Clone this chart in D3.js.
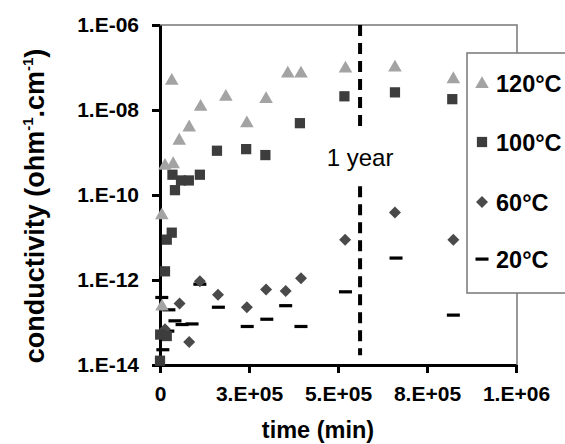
<!DOCTYPE html>
<html><head><meta charset="utf-8">
<script src="https://cdn.jsdelivr.net/npm/d3@7"></script>
<style>body{margin:0;background:#fff}svg{display:block}text{font-family:Arial,"Liberation Sans",sans-serif}</style>
</head><body><svg id="c" width="565" height="444"></svg>
<script>
// ---- data (time in min, conductivity in ohm^-1.cm^-1) ----
const series = ["120°C","100°C","60°C","20°C"];
const t120 = [5000,14000,37000,33000,54000,82000,114000,185000,244000,298000,359000,396000,521000,660000,824000,5600];
const c120 = [3.5e-11,5.1e-10,5.6e-10,5.1e-8,2.0e-9,4.1e-9,1.26e-8,2.15e-8,5.1e-9,1.9e-8,7.6e-8,7.6e-8,1.0e-7,1.05e-7,5.6e-8,2.5e-13];
const t100 = [0,500,19000,14000,19000,33000,35000,42000,59000,81000,112000,160000,242000,296000,393000,518000,660000,821000];
const c100 = [1.26e-14,5.2e-14,4.8e-14,1.6e-12,8.9e-12,1.3e-11,3.0e-10,1.3e-10,2.2e-10,2.2e-10,3.0e-10,1.1e-9,1.2e-9,8.7e-10,4.9e-9,2.1e-8,2.6e-8,1.8e-8];
const t60 = [14000,55000,82000,112000,163000,244000,298000,353000,396000,520000,660000,824000];
const c60 = [6.9e-14,2.8e-13,3.5e-14,9.3e-13,4.5e-13,2.3e-13,6.0e-13,5.5e-13,1.1e-12,8.9e-12,3.9e-11,8.9e-12];
const t20 = [5000,25000,42000,62000,90000,22000,8000,112000,164000,245000,300000,353000,396000,521000,663000,824000];
const c20 = [3.9e-13,2.0e-13,1.1e-13,9.0e-14,9.3e-14,6.3e-14,2.3e-14,8.0e-13,2.3e-13,8.1e-14,1.2e-13,2.5e-13,8.1e-14,5.3e-13,3.3e-12,1.5e-13];
const yearLine = 5.62e5;
const yearLabel = "1 year";
const yearGap = [3.4e-9, 1.6e-10];
const yearEnd = 1.7e-14;
const xTicks = [0,2.5e5,5e5,7.5e5,1e6];
const xTickLabels = ["0","3.E+05","5.E+05","8.E+05","1.E+06"];
const yTicks = [1e-6,1e-8,1e-10,1e-12,1e-14];
const yTickLabels = ["1.E-06","1.E-08","1.E-10","1.E-12","1.E-14"];

const svg = d3.select("#c");
const L=160, R=516, T=25, B=365;
const x = d3.scaleLinear().domain([0,1e6]).range([L,R]);
const y = d3.scaleLog().domain([1e-14,1e-6]).range([B,T]);

// plot border (top/right)
svg.append("path").attr("d",`M${L},${T}H${R+1}V${B}`).attr("fill","none").attr("stroke","#777").attr("stroke-width",1.5);

// year dashed line (with gap for label)
const yl = x(yearLine);
svg.append("line").attr("x1",yl).attr("x2",yl).attr("y1",y(1e-6)).attr("y2",y(yearGap[0]))
  .attr("stroke","#000").attr("stroke-width",4).attr("stroke-dasharray","11,7");
svg.append("line").attr("x1",yl).attr("x2",yl).attr("y1",y(yearGap[1])).attr("y2",y(yearEnd))
  .attr("stroke","#000").attr("stroke-width",4).attr("stroke-dasharray","11,7");
svg.append("text").attr("x",yl).attr("y",166).attr("text-anchor","middle").attr("font-size",24).text(yearLabel);

// axes
const xa = svg.append("g").attr("transform",`translate(0,${B})`)
  .call(d3.axisBottom(x).tickValues(xTicks).tickFormat((d,i)=>xTickLabels[i]).tickSize(8).tickSizeOuter(0));
const ya = svg.append("g").attr("transform",`translate(${L},0)`)
  .call(d3.axisLeft(y).tickValues(yTicks).tickFormat((d,i)=>yTickLabels[i]).tickSize(8).tickSizeOuter(0));
[xa,ya].forEach(g=>{
  g.select(".domain").attr("stroke","#000").attr("stroke-width",3);
  g.selectAll(".tick line").attr("stroke","#000").attr("stroke-width",3);
  g.selectAll(".tick text").attr("font-size",21).attr("font-weight","bold").attr("fill","#000")
   .attr("font-family","Arial, 'Liberation Sans', sans-serif");
});
xa.selectAll(".tick text").attr("dy",null).attr("y",36);
ya.selectAll(".tick text").attr("x",-21);

// markers
const tri = d3.symbol().type(d3.symbolTriangle).size(80)();
const sq = d3.symbol().type(d3.symbolSquare).size(105)();
const dia = d3.symbol().type(d3.symbolSquare).size(72)();
function pts(ts,cs){return ts.map((t,i)=>[t,cs[i]]);}
const gm = svg.append("g");
gm.selectAll(".d20").data(pts(t20,c20)).join("rect")
  .attr("x",d=>x(d[0])-6.5).attr("y",d=>y(d[1])-1.5).attr("width",13).attr("height",3.2).attr("fill","#000");
gm.selectAll(".d60").data(pts(t60,c60)).join("path").attr("d",dia)
  .attr("transform",d=>`translate(${x(d[0])},${y(d[1])}) rotate(45)`).attr("fill","#4a4a4a");
gm.selectAll(".d100").data(pts(t100,c100)).join("path").attr("d",sq)
  .attr("transform",d=>`translate(${x(d[0])},${y(d[1])})`).attr("fill","#3d3d3d");
gm.selectAll(".d120").data(pts(t120,c120)).join("path").attr("d",tri)
  .attr("transform",d=>`translate(${x(d[0])},${y(d[1])+1})`).attr("fill","#a3a3a3");

// legend
const lg = svg.append("g");
lg.append("rect").attr("x",467).attr("y",53).attr("width",110).attr("height",240)
  .attr("fill","#fff").attr("stroke","#777").attr("stroke-width",1.5);
const ly = [83,142,202,259];
lg.append("path").attr("d",tri).attr("transform",`translate(482,${ly[0]+1})`).attr("fill","#a3a3a3");
lg.append("path").attr("d",sq).attr("transform",`translate(482,${ly[1]})`).attr("fill","#3d3d3d");
lg.append("path").attr("d",dia).attr("transform",`translate(482,${ly[2]}) rotate(45)`).attr("fill","#4a4a4a");
lg.append("rect").attr("x",475.5).attr("y",ly[3]-1.5).attr("width",13).attr("height",3.2).attr("fill","#000");
series.forEach((s,i)=>lg.append("text").attr("x",496).attr("y",ly[i]+8.5).attr("font-size",23.5)
  .attr("font-weight","bold").text(s));

// axis titles
svg.append("text").attr("x",318).attr("y",438).attr("text-anchor","middle").attr("font-size",23.5)
  .attr("font-weight","bold").text("time (min)");
const yt = svg.append("text").attr("transform","translate(44,206) rotate(-90)").attr("text-anchor","middle")
  .attr("font-size",27).attr("font-weight","bold");
yt.append("tspan").text("conductivity (ohm");
yt.append("tspan").attr("font-size",15).attr("dy",-11).text("-1");
yt.append("tspan").attr("dy",11).text(".cm");
yt.append("tspan").attr("font-size",15).attr("dy",-11).text("-1");
yt.append("tspan").attr("dy",11).text(")");
</script></body></html>
